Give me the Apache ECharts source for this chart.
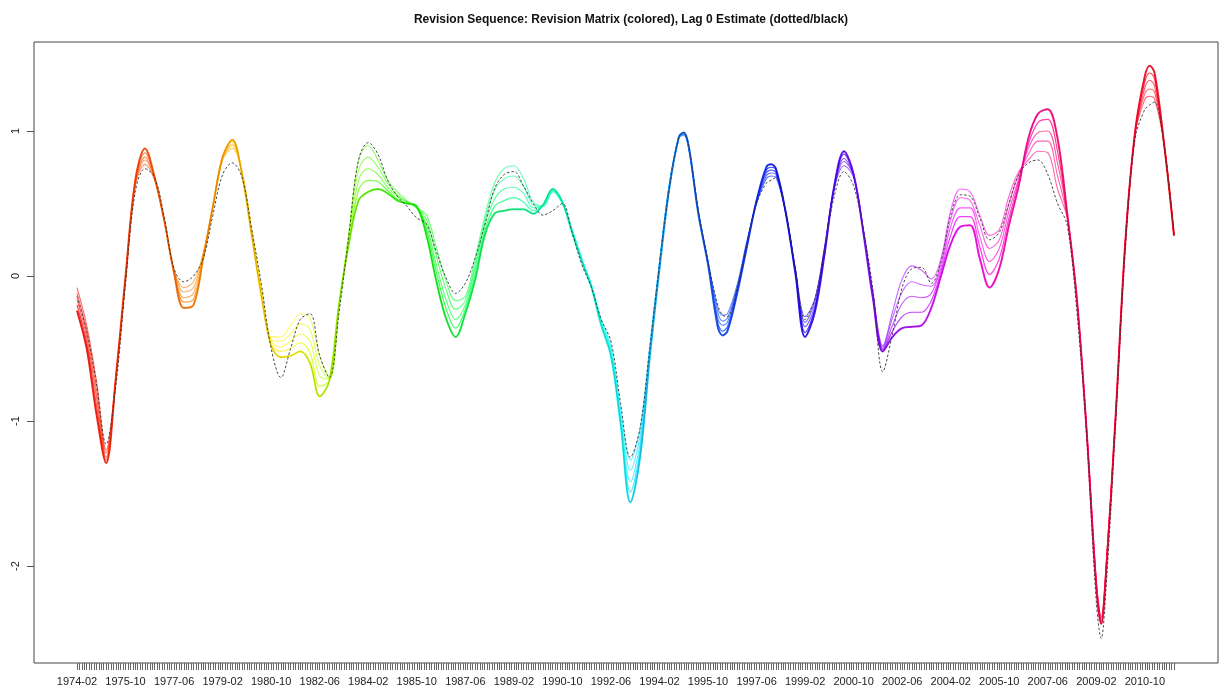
<!DOCTYPE html>
<html>
<head>
<meta charset="utf-8">
<title>Revision Sequence</title>
<script src="https://cdn.jsdelivr.net/npm/echarts@6/dist/echarts.min.js"></script>
<style>
  html, body { margin: 0; padding: 0; background: #ffffff; }
  #chart { width: 1219px; height: 692px; }
</style>
</head>
<body>
<div id="chart"></div>
<script>
// Monthly data, first month 1974-02. Knots are months counted from the start.
const startYear = 1974;
const startMonth = 2;
const lastMonth = 452;

const knotMonths = [
  0, 4, 8, 12, 16, 20, 24, 28, 32, 36, 40, 44, 48, 52, 56, 60, 64, 68, 72, 76,
  80, 84, 88, 92, 96, 100, 104, 108, 112, 116, 120, 124, 128, 132, 136, 140, 144, 148, 152, 156,
  160, 164, 168, 172, 176, 180, 184, 188, 192, 196, 200, 204, 208, 212, 216, 220, 224, 228, 232, 236,
  240, 244, 248, 250, 252, 256, 260, 264, 266, 268, 272, 276, 280, 284, 286, 288, 292, 296, 300, 304,
  308, 312, 316, 320, 324, 328, 332, 336, 340, 344, 348, 352, 356, 360, 364, 368, 372, 376, 380, 384,
  388, 392, 396, 400, 404, 408, 412, 416, 420, 422, 424, 428, 432, 436, 440, 442, 444, 448, 452
];

// Most revised estimate (outer edge of the revision fan)
const finalEst = [
  -0.24, -0.50, -0.95, -1.29, -0.70, 0.00, 0.66, 0.88, 0.68, 0.38, 0.02, -0.22, -0.20, 0.12, 0.48, 0.82, 0.94, 0.70, 0.28, -0.14,
  -0.48, -0.56, -0.55, -0.52, -0.60, -0.83, -0.72, -0.19, 0.22, 0.52, 0.58, 0.60, 0.57, 0.52, 0.50, 0.48, 0.28, -0.03, -0.29, -0.42,
  -0.26, -0.03, 0.28, 0.43, 0.45, 0.46, 0.46, 0.43, 0.49, 0.60, 0.51, 0.30, 0.10, -0.08, -0.34, -0.55, -1.02, -1.56, -1.25, -0.56,
  0.05, 0.60, 0.96, 0.99, 0.90, 0.43, 0.08, -0.35, -0.41, -0.38, -0.12, 0.20, 0.52, 0.75, 0.77, 0.74, 0.44, 0.02, -0.42, -0.25,
  0.15, 0.62, 0.86, 0.70, 0.30, -0.16, -0.52, -0.42, -0.36, -0.35, -0.34, -0.22, 0.00, 0.22, 0.34, 0.35, 0.12, -0.08, 0.05, 0.35,
  0.62, 0.95, 1.12, 1.15, 0.95, 0.43, -0.16, -1.07, -2.15, -2.40, -2.05, -0.95, 0.25, 1.00, 1.38, 1.45, 1.40, 0.90, 0.28
];

// Intermediate vintages
const rev1 = [
  -0.20, -0.46, -0.89, -1.27, -0.71, -0.01, 0.65, 0.85, 0.68, 0.38, 0.03, -0.18, -0.16, 0.13, 0.48, 0.82, 0.93, 0.71, 0.29, -0.12,
  -0.47, -0.52, -0.50, -0.46, -0.53, -0.76, -0.72, -0.20, 0.24, 0.59, 0.66, 0.65, 0.59, 0.53, 0.50, 0.48, 0.32, 0.03, -0.22, -0.36,
  -0.23, 0.01, 0.31, 0.48, 0.52, 0.54, 0.51, 0.45, 0.49, 0.60, 0.51, 0.31, 0.11, -0.08, -0.33, -0.53, -1.00, -1.49, -1.20, -0.54,
  0.06, 0.61, 0.96, 0.99, 0.90, 0.44, 0.09, -0.32, -0.38, -0.35, -0.11, 0.21, 0.52, 0.73, 0.75, 0.73, 0.44, 0.03, -0.39, -0.23,
  0.16, 0.62, 0.84, 0.70, 0.31, -0.15, -0.51, -0.38, -0.28, -0.25, -0.25, -0.17, 0.03, 0.28, 0.41, 0.41, 0.20, 0.01, 0.12, 0.40,
  0.65, 0.91, 1.06, 1.08, 0.86, 0.42, -0.16, -1.07, -2.14, -2.39, -2.04, -0.95, 0.25, 1.00, 1.34, 1.40, 1.36, 0.90, 0.28
];

const rev2 = [
  -0.16, -0.42, -0.83, -1.25, -0.72, -0.02, 0.64, 0.82, 0.67, 0.38, 0.03, -0.15, -0.12, 0.14, 0.48, 0.81, 0.91, 0.71, 0.30, -0.11,
  -0.45, -0.49, -0.45, -0.40, -0.45, -0.69, -0.71, -0.20, 0.26, 0.66, 0.74, 0.70, 0.61, 0.55, 0.51, 0.47, 0.35, 0.08, -0.16, -0.30,
  -0.20, 0.05, 0.35, 0.53, 0.60, 0.61, 0.57, 0.47, 0.48, 0.59, 0.50, 0.31, 0.11, -0.07, -0.32, -0.52, -0.97, -1.42, -1.15, -0.52,
  0.08, 0.62, 0.96, 0.98, 0.89, 0.44, 0.09, -0.29, -0.34, -0.32, -0.09, 0.22, 0.51, 0.71, 0.73, 0.71, 0.44, 0.03, -0.35, -0.21,
  0.18, 0.61, 0.81, 0.69, 0.31, -0.14, -0.50, -0.34, -0.19, -0.14, -0.15, -0.12, 0.06, 0.34, 0.47, 0.47, 0.27, 0.10, 0.19, 0.45,
  0.67, 0.88, 0.99, 1.00, 0.78, 0.42, -0.17, -1.06, -2.13, -2.38, -2.03, -0.95, 0.25, 0.99, 1.30, 1.35, 1.31, 0.90, 0.28
];

const rev3 = [
  -0.12, -0.38, -0.78, -1.22, -0.71, -0.02, 0.63, 0.80, 0.67, 0.38, 0.04, -0.11, -0.08, 0.15, 0.48, 0.81, 0.90, 0.72, 0.31, -0.09,
  -0.44, -0.45, -0.40, -0.33, -0.37, -0.62, -0.71, -0.21, 0.28, 0.73, 0.82, 0.75, 0.64, 0.56, 0.51, 0.47, 0.39, 0.14, -0.09, -0.23,
  -0.17, 0.08, 0.38, 0.59, 0.67, 0.69, 0.62, 0.49, 0.48, 0.59, 0.50, 0.32, 0.12, -0.07, -0.31, -0.50, -0.95, -1.34, -1.10, -0.50,
  0.09, 0.62, 0.95, 0.98, 0.89, 0.45, 0.10, -0.25, -0.31, -0.29, -0.08, 0.23, 0.51, 0.69, 0.71, 0.70, 0.44, 0.04, -0.32, -0.18,
  0.19, 0.61, 0.79, 0.69, 0.32, -0.13, -0.49, -0.29, -0.11, -0.04, -0.06, -0.07, 0.09, 0.39, 0.54, 0.52, 0.35, 0.19, 0.25, 0.50,
  0.70, 0.84, 0.93, 0.93, 0.69, 0.41, -0.17, -1.06, -2.11, -2.36, -2.01, -0.95, 0.25, 0.99, 1.26, 1.29, 1.27, 0.90, 0.28
];

// Least revised estimate (edge of the fan next to the lag 0 line)
const earlyEst = [
  -0.08, -0.34, -0.72, -1.20, -0.70, -0.02, 0.62, 0.77, 0.66, 0.38, 0.04, -0.08, -0.04, 0.16, 0.48, 0.80, 0.88, 0.72, 0.32, -0.08,
  -0.42, -0.42, -0.34, -0.26, -0.29, -0.55, -0.70, -0.21, 0.30, 0.80, 0.90, 0.80, 0.66, 0.58, 0.52, 0.47, 0.42, 0.20, -0.03, -0.17,
  -0.14, 0.12, 0.41, 0.64, 0.74, 0.76, 0.67, 0.51, 0.48, 0.58, 0.50, 0.32, 0.12, -0.06, -0.30, -0.48, -0.92, -1.27, -1.05, -0.48,
  0.10, 0.63, 0.95, 0.97, 0.88, 0.45, 0.10, -0.22, -0.27, -0.26, -0.06, 0.24, 0.50, 0.67, 0.69, 0.68, 0.44, 0.05, -0.28, -0.16,
  0.20, 0.60, 0.76, 0.68, 0.32, -0.12, -0.48, -0.25, -0.02, 0.07, 0.04, -0.02, 0.12, 0.45, 0.60, 0.58, 0.42, 0.28, 0.32, 0.55,
  0.72, 0.80, 0.86, 0.85, 0.60, 0.40, -0.18, -1.05, -2.10, -2.35, -2.00, -0.95, 0.25, 0.98, 1.22, 1.24, 1.22, 0.90, 0.28
];

// Lag 0 (concurrent) estimate
const lag0Est = [
  -0.14, -0.38, -0.74, -1.16, -0.76, -0.05, 0.58, 0.74, 0.68, 0.40, 0.05, -0.04, 0.00, 0.12, 0.42, 0.70, 0.78, 0.68, 0.32, -0.06,
  -0.50, -0.70, -0.50, -0.30, -0.26, -0.55, -0.70, -0.25, 0.28, 0.80, 0.92, 0.84, 0.66, 0.55, 0.48, 0.40, 0.36, 0.17, -0.01, -0.12,
  -0.05, 0.12, 0.35, 0.60, 0.70, 0.72, 0.62, 0.50, 0.42, 0.45, 0.50, 0.30, 0.08, -0.08, -0.30, -0.45, -0.88, -1.25, -1.05, -0.50,
  0.08, 0.60, 0.96, 0.99, 0.90, 0.45, 0.10, -0.20, -0.27, -0.28, -0.08, 0.22, 0.50, 0.64, 0.66, 0.68, 0.44, 0.05, -0.30, -0.16,
  0.18, 0.55, 0.72, 0.62, 0.32, -0.10, -0.66, -0.40, -0.08, 0.05, 0.06, -0.05, 0.10, 0.42, 0.56, 0.55, 0.40, 0.25, 0.30, 0.50,
  0.70, 0.78, 0.80, 0.70, 0.50, 0.35, -0.25, -1.10, -2.25, -2.50, -2.15, -1.00, 0.20, 0.95, 1.15, 1.18, 1.20, 0.88, 0.28
];

const tickLabels = [
  '1974-02', '1975-10', '1977-06', '1979-02', '1980-10', '1982-06', '1984-02', '1985-10',
  '1987-06', '1989-02', '1990-10', '1992-06', '1994-02', '1995-10', '1997-06', '1999-02',
  '2000-10', '2002-06', '2004-02', '2005-10', '2007-06', '2009-02', '2010-10'
];
const yTickValues = [-2, -1, 0, 1];

// ---- helpers ----
function monthIndex(label) {
  const [y, m] = label.split('-').map(Number);
  return (y - startYear) * 12 + (m - startMonth);
}
function monthLabel(idx) {
  const t = startMonth - 1 + Math.round(idx);
  const y = startYear + Math.floor(t / 12);
  const m = (t % 12) + 1;
  return y + '-' + String(m).padStart(2, '0');
}
function pairs(values) {
  return values.map((v, i) => [knotMonths[i], v]);
}

const labelPositions = tickLabels.map(monthIndex);
const monthTicks = [];
for (let i = 0; i <= lastMonth; i++) monthTicks.push(i);

// Hue ramp along the time axis (month -> hue fraction), red through violet back to red
const hueStops = [
  [0, 0.0], [45, 0.08], [90, 0.17], [120, 0.28], [180, 0.42], [229, 0.51],
  [250, 0.60], [285, 0.65], [316, 0.72], [340, 0.77], [365, 0.83], [400, 0.92],
  [430, 0.97], [452, 0.99]
];
function hueAt(m) {
  for (let i = 1; i < hueStops.length; i++) {
    if (m <= hueStops[i][0]) {
      const [m0, h0] = hueStops[i - 1], [m1, h1] = hueStops[i];
      return h0 + (h1 - h0) * (m - m0) / (m1 - m0);
    }
  }
  return hueStops[hueStops.length - 1][1];
}
const rainbow = [];
for (let k = 0; k <= 60; k++) {
  const h = hueAt(k / 60 * lastMonth) * 360;
  rainbow.push('hsl(' + h.toFixed(1) + ',100%,50%)');
}

const FONT = '"Liberation Sans", Arial, "DejaVu Sans", sans-serif';

// pixel layout of the plotting box
const boxLeft = 34, boxRight = 1218, boxTop = 42, boxBottom = 663;
const pxPerMonth = 2.427, monthZeroPx = 77;
const pxPerUnit = 145, zeroPx = 276;

const xMin = -(monthZeroPx - boxLeft) / pxPerMonth;
const xMax = (boxRight - monthZeroPx) / pxPerMonth;
const yMax = (zeroPx - boxTop) / pxPerUnit;
const yMin = (zeroPx - boxBottom) / pxPerUnit;

const revStyle = (w, op) => ({
  type: 'line',
  smooth: 0.35,
  showSymbol: false,
  silent: true,
  lineStyle: { width: w, opacity: op }
});

const chart = echarts.init(document.getElementById('chart'), null, { renderer: 'canvas' });

chart.setOption({
  animation: false,
  backgroundColor: '#ffffff',
  title: {
    text: 'Revision Sequence: Revision Matrix (colored), Lag 0 Estimate (dotted/black)',
    left: (boxLeft + boxRight) / 2,
    top: 9,
    textAlign: 'center',
    textStyle: { fontFamily: FONT, fontSize: 12, fontWeight: 'bold', color: '#111' }
  },
  grid: {
    left: boxLeft, top: boxTop,
    width: boxRight - boxLeft, height: boxBottom - boxTop,
    show: true, borderColor: '#444', borderWidth: 1, backgroundColor: 'transparent'
  },
  xAxis: {
    type: 'value',
    min: xMin, max: xMax,
    axisLine: { show: false, onZero: false },
    splitLine: { show: false },
    axisTick: {
      show: true, customValues: monthTicks, length: 7, inside: false,
      lineStyle: { color: '#666', width: 1 }
    },
    axisLabel: {
      show: true, customValues: labelPositions, margin: 13,
      formatter: v => monthLabel(v),
      fontFamily: FONT, fontSize: 11, color: '#222'
    }
  },
  yAxis: {
    type: 'value',
    min: yMin, max: yMax,
    axisLine: { show: false, onZero: false },
    splitLine: { show: false },
    axisTick: {
      show: true, customValues: yTickValues, length: 7,
      lineStyle: { color: '#555', width: 1 }
    },
    axisLabel: {
      show: true, customValues: yTickValues, rotate: 90, margin: 13,
      formatter: v => String(v),
      fontFamily: FONT, fontSize: 11, color: '#222'
    }
  },
  visualMap: {
    show: false,
    type: 'continuous',
    dimension: 0,
    min: 0, max: lastMonth,
    seriesIndex: [0, 1, 2, 3, 4],
    inRange: { color: rainbow }
  },
  series: [
    Object.assign(revStyle(1.1, 0.6), { name: 'early', data: pairs(earlyEst) }),
    Object.assign(revStyle(1.1, 0.6), { name: 'rev3', data: pairs(rev3) }),
    Object.assign(revStyle(1.1, 0.65), { name: 'rev2', data: pairs(rev2) }),
    Object.assign(revStyle(1.2, 0.75), { name: 'rev1', data: pairs(rev1) }),
    Object.assign(revStyle(2.0, 0.9), { name: 'final', data: pairs(finalEst) }),
    {
      name: 'final edge', type: 'line', smooth: 0.35, showSymbol: false, silent: true,
      data: pairs(finalEst),
      lineStyle: { width: 0.8, color: 'rgba(90,30,40,0.3)' }
    },
    {
      name: 'lag 0', type: 'line', smooth: 0.35, showSymbol: false, silent: true,
      data: pairs(lag0Est), z: 5,
      lineStyle: { width: 0.9, color: '#333', type: [2.5, 2] }
    }
  ]
});
</script>
</body>
</html>
